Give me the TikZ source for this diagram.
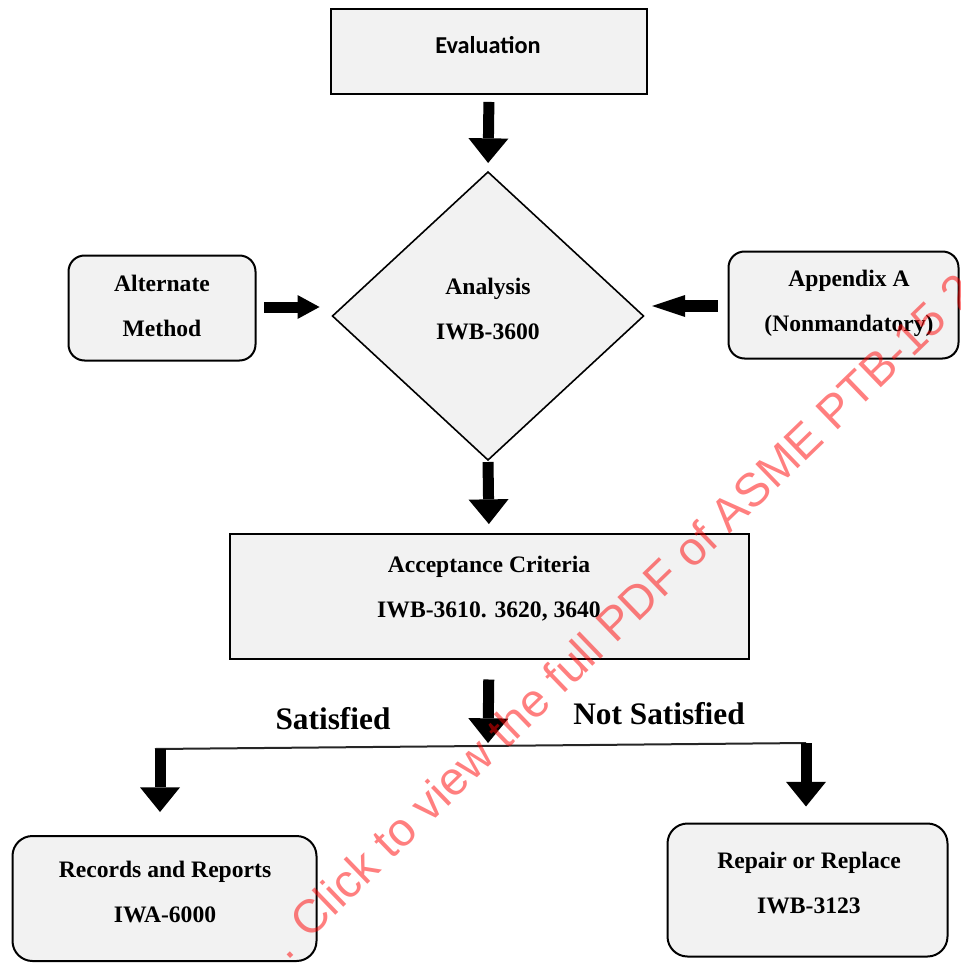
\documentclass[tikz,border=0pt]{standalone}
\usepackage{fontspec}
\setmainfont{Liberation Serif}
\newfontfamily\calibrifont{Carlito}
\newfontfamily\wmfont{Liberation Sans}
\usetikzlibrary{arrows.meta,shapes.geometric,calc}
\definecolor{boxgray}{HTML}{F2F2F2}

\begin{document}
\begin{tikzpicture}[x=0.75pt,y=-0.75pt,
  box/.style={draw=black, line width=1.5pt, fill=boxgray, inner sep=0pt, outer sep=0pt},
  rbox/.style={box, rounded corners=12pt},
  lbl/.style={font=\fontsize{17.7pt}{33.75pt}\selectfont\bfseries, align=center, inner sep=0pt},
  branch/.style={font=\fontsize{23.5pt}{28pt}\selectfont\bfseries, inner sep=0pt},
  bigarrow/.style={line width=8.25pt, -{Triangle[width=30pt,length=18.5pt,line width=0pt]}},
  leftin/.style={line width=8.25pt, -{Triangle[width=18pt,length=16.5pt,line width=0pt]}},
  rightin/.style={line width=8.5pt, -{Triangle[width=16.5pt,length=24.75pt,line width=0pt]}},
  joinline/.style={line width=1.5pt, draw=black!85},
]
\useasboundingbox (0,0) rectangle (960,963);

% boxes
\node[box, minimum width=237pt, minimum height=63.75pt] (eval) at (489,52) {};
\node[lbl, font=\fontsize{18.2pt}{20pt}\selectfont\calibrifont\bfseries] (evaltxt) at (488,45) {Evaluation};

\node[draw=black, diamond, line width=1.2pt, fill=boxgray, inner sep=0pt, outer sep=0pt,
      minimum width=233.25pt, minimum height=216pt] (ana) at (488,316) {};
\node[lbl] (anatxt) at (488,309) {Analysis\\IWB-3600};

\node[rbox, minimum width=140.25pt, minimum height=78.75pt] (alt) at (162,308) {};
\node[lbl] (alttxt) at (162,305.5) {Alternate\\Method};

\node[rbox, minimum width=172.5pt, minimum height=80.25pt] (app) at (843.5,305) {};
\node[lbl] (apptxt) at (849,303) {Appendix A\\(Nonmandatory)};

\node[box, minimum width=389.25pt, minimum height=93.75pt] (acc) at (489,596) {};
\node[lbl] (acctxt) at (489,588.5) {Acceptance Criteria\\IWB-3610. 3620, 3640};

\node[rbox, rounded corners=15pt, minimum width=228pt, minimum height=93.75pt] (rec) at (164.5,898.5) {};
\node[lbl] (rectxt) at (165,891.5) {Records and Reports\\IWA-6000};

\node[rbox, rounded corners=15pt, minimum width=210pt, minimum height=99.75pt] (rep) at (807.5,890) {};
\node[lbl] (reptxt) at (809,883) {Repair or Replace\\IWB-3123};

% branch labels
\node[branch] (sat) at (333,719) {Satisfied};
\node[branch] (notsat) at (659,714) {Not Satisfied};

% junction line
\coordinate (jl) at (160,749);
\coordinate (jr) at (806,743);
\coordinate (jm) at (488,746);
\draw[joinline] ($(jl)+(-5,0)$) -- (jr);

% connectors
\draw[bigarrow, shorten <=5.6pt, shorten >=6.75pt] (eval.south) -- (ana.north);
\draw[bigarrow, shorten <=1.5pt, shorten >=7.1pt] (ana.south) -- (acc.north);
\draw[bigarrow, shorten <=15.75pt, shorten >=2.25pt] (acc.south) -- (jm);
\draw[bigarrow, shorten >=18pt] (jl) -- (jl |- rec.north);
\draw[bigarrow, shorten >=12.75pt] (jr) -- (jr |- rep.north);
\draw[leftin, shorten <=6.4pt, shorten >=9.75pt] ($(alt.east)+(0,-1)$) -- ($(alt.east -| ana.west)+(0,-1)$);
\draw[rightin, shorten <=7.9pt, shorten >=6.4pt] ($(app.west)+(0,1)$) -- ($(app.west -| ana.east)+(0,1)$);

% watermark
\begin{scope}
\clip (0,0) rectangle (960,963);
\node[font=\fontsize{35.25pt}{40pt}\selectfont\wmfont, text=red, text opacity=0.5,
      rotate=44, anchor=base west, inner sep=0pt] (wm) at (287,962)
      {. Click to view the full PDF of ASME PTB-15 2};
\end{scope}
\end{tikzpicture}
\end{document}
